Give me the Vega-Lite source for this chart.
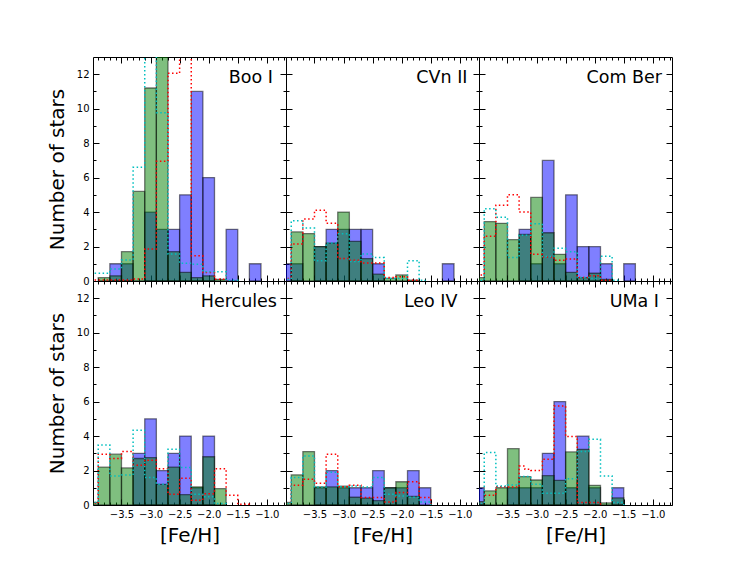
{
  "$schema": "https://vega.github.io/schema/vega-lite/v6.json",
  "description": "Metallicity distributions of six ultra-faint dwarfs: observed (blue), model (green), two model curves (dotted).",
  "background": "white",
  "padding": {"left": 47, "top": 56, "right": 5, "bottom": 5},
  "config": {
    "view": {"stroke": null},
    "axis": {
      "grid": false,
      "zindex": 1,
      "domain": true,
      "domainColor": "#000",
      "domainWidth": 1,
      "tickColor": "#000",
      "tickWidth": 1,
      "labelFont": "DejaVu Sans",
      "labelFontSize": 10,
      "labelColor": "#000",
      "titleFont": "DejaVu Sans",
      "titleFontSize": 20,
      "titleFontWeight": "normal",
      "titleColor": "#000"
    },
    "title": {
      "font": "DejaVu Sans",
      "fontSize": 17.5,
      "fontWeight": "normal",
      "color": "#000",
      "anchor": "end",
      "frame": "group",
      "baseline": "alphabetic",
      "offset": -29.5
    }
  },
  "datasets": {
    "bars": [
      {"g": "Boo I", "s": "b", "lo": -3.7, "hi": -3.5, "n": 1},
      {"g": "Boo I", "s": "b", "lo": -3.5, "hi": -3.3, "n": 1},
      {"g": "Boo I", "s": "b", "lo": -3.1, "hi": -2.9, "n": 4},
      {"g": "Boo I", "s": "b", "lo": -2.9, "hi": -2.7, "n": 3},
      {"g": "Boo I", "s": "b", "lo": -2.7, "hi": -2.5, "n": 3},
      {"g": "Boo I", "s": "b", "lo": -2.5, "hi": -2.3, "n": 5},
      {"g": "Boo I", "s": "b", "lo": -2.3, "hi": -2.1, "n": 11},
      {"g": "Boo I", "s": "b", "lo": -2.1, "hi": -1.9, "n": 6},
      {"g": "Boo I", "s": "b", "lo": -1.7, "hi": -1.5, "n": 3},
      {"g": "Boo I", "s": "b", "lo": -1.3, "hi": -1.1, "n": 1},
      {"g": "Boo I", "s": "g", "lo": -3.9, "hi": -3.7, "n": 0.2},
      {"g": "Boo I", "s": "g", "lo": -3.7, "hi": -3.5, "n": 0.3},
      {"g": "Boo I", "s": "g", "lo": -3.5, "hi": -3.3, "n": 1.7},
      {"g": "Boo I", "s": "g", "lo": -3.3, "hi": -3.1, "n": 5.2},
      {"g": "Boo I", "s": "g", "lo": -3.1, "hi": -2.9, "n": 11.2},
      {"g": "Boo I", "s": "g", "lo": -2.9, "hi": -2.7, "n": 13.6},
      {"g": "Boo I", "s": "g", "lo": -2.7, "hi": -2.5, "n": 1.7},
      {"g": "Boo I", "s": "g", "lo": -2.5, "hi": -2.3, "n": 0.5},
      {"g": "Boo I", "s": "g", "lo": -2.3, "hi": -2.1, "n": 0.2},
      {"g": "Boo I", "s": "g", "lo": -2.1, "hi": -1.9, "n": 0.3},
      {"g": "Boo I", "s": "g", "lo": -1.9, "hi": -1.7, "n": 0.1},

      {"g": "CVn II", "s": "b", "lo": -4.1, "hi": -3.9, "n": 1},
      {"g": "CVn II", "s": "b", "lo": -3.9, "hi": -3.7, "n": 1},
      {"g": "CVn II", "s": "b", "lo": -3.5, "hi": -3.3, "n": 2},
      {"g": "CVn II", "s": "b", "lo": -3.3, "hi": -3.1, "n": 3},
      {"g": "CVn II", "s": "b", "lo": -3.1, "hi": -2.9, "n": 3},
      {"g": "CVn II", "s": "b", "lo": -2.9, "hi": -2.7, "n": 3},
      {"g": "CVn II", "s": "b", "lo": -2.7, "hi": -2.5, "n": 3},
      {"g": "CVn II", "s": "b", "lo": -2.5, "hi": -2.3, "n": 1},
      {"g": "CVn II", "s": "b", "lo": -1.3, "hi": -1.1, "n": 1},
      {"g": "CVn II", "s": "g", "lo": -3.9, "hi": -3.7, "n": 2.85},
      {"g": "CVn II", "s": "g", "lo": -3.7, "hi": -3.5, "n": 2.75},
      {"g": "CVn II", "s": "g", "lo": -3.5, "hi": -3.3, "n": 2.0},
      {"g": "CVn II", "s": "g", "lo": -3.3, "hi": -3.1, "n": 2.2},
      {"g": "CVn II", "s": "g", "lo": -3.1, "hi": -2.9, "n": 4.0},
      {"g": "CVn II", "s": "g", "lo": -2.9, "hi": -2.7, "n": 2.3},
      {"g": "CVn II", "s": "g", "lo": -2.7, "hi": -2.5, "n": 1.3},
      {"g": "CVn II", "s": "g", "lo": -2.5, "hi": -2.3, "n": 0.4},
      {"g": "CVn II", "s": "g", "lo": -2.3, "hi": -2.1, "n": 0.15},
      {"g": "CVn II", "s": "g", "lo": -2.1, "hi": -1.9, "n": 0.35},
      {"g": "CVn II", "s": "g", "lo": -1.9, "hi": -1.7, "n": 0.05},

      {"g": "Com Ber", "s": "b", "lo": -3.3, "hi": -3.1, "n": 3},
      {"g": "Com Ber", "s": "b", "lo": -3.1, "hi": -2.9, "n": 1},
      {"g": "Com Ber", "s": "b", "lo": -2.9, "hi": -2.7, "n": 7},
      {"g": "Com Ber", "s": "b", "lo": -2.7, "hi": -2.5, "n": 1},
      {"g": "Com Ber", "s": "b", "lo": -2.5, "hi": -2.3, "n": 5},
      {"g": "Com Ber", "s": "b", "lo": -2.3, "hi": -2.1, "n": 2},
      {"g": "Com Ber", "s": "b", "lo": -2.1, "hi": -1.9, "n": 2},
      {"g": "Com Ber", "s": "b", "lo": -1.9, "hi": -1.7, "n": 1},
      {"g": "Com Ber", "s": "b", "lo": -1.5, "hi": -1.3, "n": 1},
      {"g": "Com Ber", "s": "g", "lo": -4.1, "hi": -3.9, "n": 0.2},
      {"g": "Com Ber", "s": "g", "lo": -3.9, "hi": -3.7, "n": 3.45},
      {"g": "Com Ber", "s": "g", "lo": -3.7, "hi": -3.5, "n": 3.35},
      {"g": "Com Ber", "s": "g", "lo": -3.5, "hi": -3.3, "n": 2.4},
      {"g": "Com Ber", "s": "g", "lo": -3.3, "hi": -3.1, "n": 2.7},
      {"g": "Com Ber", "s": "g", "lo": -3.1, "hi": -2.9, "n": 4.85},
      {"g": "Com Ber", "s": "g", "lo": -2.9, "hi": -2.7, "n": 2.8},
      {"g": "Com Ber", "s": "g", "lo": -2.7, "hi": -2.5, "n": 1.55},
      {"g": "Com Ber", "s": "g", "lo": -2.5, "hi": -2.3, "n": 0.5},
      {"g": "Com Ber", "s": "g", "lo": -2.3, "hi": -2.1, "n": 0.2},
      {"g": "Com Ber", "s": "g", "lo": -2.1, "hi": -1.9, "n": 0.45},
      {"g": "Com Ber", "s": "g", "lo": -1.9, "hi": -1.7, "n": 0.1},

      {"g": "Hercules", "s": "b", "lo": -3.3, "hi": -3.1, "n": 3},
      {"g": "Hercules", "s": "b", "lo": -3.1, "hi": -2.9, "n": 5},
      {"g": "Hercules", "s": "b", "lo": -2.9, "hi": -2.7, "n": 2},
      {"g": "Hercules", "s": "b", "lo": -2.7, "hi": -2.5, "n": 3},
      {"g": "Hercules", "s": "b", "lo": -2.5, "hi": -2.3, "n": 4},
      {"g": "Hercules", "s": "b", "lo": -2.3, "hi": -2.1, "n": 1},
      {"g": "Hercules", "s": "b", "lo": -2.1, "hi": -1.9, "n": 4},
      {"g": "Hercules", "s": "g", "lo": -4.1, "hi": -3.9, "n": 0.15},
      {"g": "Hercules", "s": "g", "lo": -3.9, "hi": -3.7, "n": 2.2},
      {"g": "Hercules", "s": "g", "lo": -3.7, "hi": -3.5, "n": 2.95},
      {"g": "Hercules", "s": "g", "lo": -3.5, "hi": -3.3, "n": 2.15},
      {"g": "Hercules", "s": "g", "lo": -3.3, "hi": -3.1, "n": 2.7},
      {"g": "Hercules", "s": "g", "lo": -3.1, "hi": -2.9, "n": 2.75},
      {"g": "Hercules", "s": "g", "lo": -2.9, "hi": -2.7, "n": 1.2},
      {"g": "Hercules", "s": "g", "lo": -2.7, "hi": -2.5, "n": 2.2},
      {"g": "Hercules", "s": "g", "lo": -2.5, "hi": -2.3, "n": 0.6},
      {"g": "Hercules", "s": "g", "lo": -2.3, "hi": -2.1, "n": 1.05},
      {"g": "Hercules", "s": "g", "lo": -2.1, "hi": -1.9, "n": 2.8},
      {"g": "Hercules", "s": "g", "lo": -1.9, "hi": -1.7, "n": 0.95},

      {"g": "Leo IV", "s": "b", "lo": -3.5, "hi": -3.3, "n": 1},
      {"g": "Leo IV", "s": "b", "lo": -3.3, "hi": -3.1, "n": 2},
      {"g": "Leo IV", "s": "b", "lo": -3.1, "hi": -2.9, "n": 1},
      {"g": "Leo IV", "s": "b", "lo": -2.9, "hi": -2.7, "n": 1},
      {"g": "Leo IV", "s": "b", "lo": -2.7, "hi": -2.5, "n": 1},
      {"g": "Leo IV", "s": "b", "lo": -2.5, "hi": -2.3, "n": 2},
      {"g": "Leo IV", "s": "b", "lo": -2.3, "hi": -2.1, "n": 1},
      {"g": "Leo IV", "s": "b", "lo": -2.1, "hi": -1.9, "n": 1},
      {"g": "Leo IV", "s": "b", "lo": -1.9, "hi": -1.7, "n": 2},
      {"g": "Leo IV", "s": "b", "lo": -1.7, "hi": -1.5, "n": 1},
      {"g": "Leo IV", "s": "g", "lo": -4.1, "hi": -3.9, "n": 0.15},
      {"g": "Leo IV", "s": "g", "lo": -3.9, "hi": -3.7, "n": 1.75},
      {"g": "Leo IV", "s": "g", "lo": -3.7, "hi": -3.5, "n": 3.1},
      {"g": "Leo IV", "s": "g", "lo": -3.5, "hi": -3.3, "n": 1.05},
      {"g": "Leo IV", "s": "g", "lo": -3.3, "hi": -3.1, "n": 1.05},
      {"g": "Leo IV", "s": "g", "lo": -3.1, "hi": -2.9, "n": 1.1},
      {"g": "Leo IV", "s": "g", "lo": -2.9, "hi": -2.7, "n": 0.45},
      {"g": "Leo IV", "s": "g", "lo": -2.7, "hi": -2.5, "n": 0.4},
      {"g": "Leo IV", "s": "g", "lo": -2.5, "hi": -2.3, "n": 0.25},
      {"g": "Leo IV", "s": "g", "lo": -2.3, "hi": -2.1, "n": 1.0},
      {"g": "Leo IV", "s": "g", "lo": -2.1, "hi": -1.9, "n": 1.35},
      {"g": "Leo IV", "s": "g", "lo": -1.9, "hi": -1.7, "n": 0.5},

      {"g": "UMa I", "s": "b", "lo": -4.1, "hi": -3.9, "n": 1},
      {"g": "UMa I", "s": "b", "lo": -3.5, "hi": -3.3, "n": 1},
      {"g": "UMa I", "s": "b", "lo": -3.3, "hi": -3.1, "n": 1},
      {"g": "UMa I", "s": "b", "lo": -3.1, "hi": -2.9, "n": 1},
      {"g": "UMa I", "s": "b", "lo": -2.9, "hi": -2.7, "n": 3},
      {"g": "UMa I", "s": "b", "lo": -2.7, "hi": -2.5, "n": 6},
      {"g": "UMa I", "s": "b", "lo": -2.5, "hi": -2.3, "n": 1},
      {"g": "UMa I", "s": "b", "lo": -2.3, "hi": -2.1, "n": 4},
      {"g": "UMa I", "s": "b", "lo": -2.1, "hi": -1.9, "n": 1},
      {"g": "UMa I", "s": "b", "lo": -1.7, "hi": -1.5, "n": 1},
      {"g": "UMa I", "s": "g", "lo": -4.1, "hi": -3.9, "n": 0.2},
      {"g": "UMa I", "s": "g", "lo": -3.9, "hi": -3.7, "n": 0.82},
      {"g": "UMa I", "s": "g", "lo": -3.7, "hi": -3.5, "n": 1.0},
      {"g": "UMa I", "s": "g", "lo": -3.5, "hi": -3.3, "n": 3.27},
      {"g": "UMa I", "s": "g", "lo": -3.3, "hi": -3.1, "n": 1.65},
      {"g": "UMa I", "s": "g", "lo": -3.1, "hi": -2.9, "n": 1.45},
      {"g": "UMa I", "s": "g", "lo": -2.9, "hi": -2.7, "n": 1.7},
      {"g": "UMa I", "s": "g", "lo": -2.7, "hi": -2.5, "n": 1.43},
      {"g": "UMa I", "s": "g", "lo": -2.5, "hi": -2.3, "n": 3.08},
      {"g": "UMa I", "s": "g", "lo": -2.3, "hi": -2.1, "n": 3.23},
      {"g": "UMa I", "s": "g", "lo": -2.1, "hi": -1.9, "n": 1.14},
      {"g": "UMa I", "s": "g", "lo": -1.9, "hi": -1.7, "n": 0.12},
      {"g": "UMa I", "s": "g", "lo": -1.7, "hi": -1.5, "n": 0.41}
    ],
    "lines": [
      {"g": "Boo I", "m": "r", "x": -4.1, "n": 0.06},
      {"g": "Boo I", "m": "r", "x": -3.3, "n": 0.12},
      {"g": "Boo I", "m": "r", "x": -3.1, "n": 1.86},
      {"g": "Boo I", "m": "r", "x": -2.9, "n": 6.95},
      {"g": "Boo I", "m": "r", "x": -2.7, "n": 12.05},
      {"g": "Boo I", "m": "r", "x": -2.5, "n": 14},
      {"g": "Boo I", "m": "r", "x": -2.3, "n": 1.46},
      {"g": "Boo I", "m": "r", "x": -2.1, "n": 0.49},
      {"g": "Boo I", "m": "r", "x": -1.9, "n": 0.1},
      {"g": "Boo I", "m": "r", "x": -1.7, "n": 0},
      {"g": "Boo I", "m": "c", "x": -4.1, "n": 0.45},
      {"g": "Boo I", "m": "c", "x": -3.7, "n": 0.7},
      {"g": "Boo I", "m": "c", "x": -3.5, "n": 1.22},
      {"g": "Boo I", "m": "c", "x": -3.3, "n": 6.6},
      {"g": "Boo I", "m": "c", "x": -3.1, "n": 14},
      {"g": "Boo I", "m": "c", "x": -2.9, "n": 9.77},
      {"g": "Boo I", "m": "c", "x": -2.7, "n": 1.57},
      {"g": "Boo I", "m": "c", "x": -2.5, "n": 1.03},
      {"g": "Boo I", "m": "c", "x": -2.3, "n": 0.97},
      {"g": "Boo I", "m": "c", "x": -2.1, "n": 0.54},
      {"g": "Boo I", "m": "c", "x": -1.9, "n": 0.54},
      {"g": "Boo I", "m": "c", "x": -1.7, "n": 0.05},
      {"g": "Boo I", "m": "c", "x": -1.5, "n": 0},

      {"g": "CVn II", "m": "r", "x": -4.1, "n": 0.15},
      {"g": "CVn II", "m": "r", "x": -3.9, "n": 2.15},
      {"g": "CVn II", "m": "r", "x": -3.7, "n": 3.6},
      {"g": "CVn II", "m": "r", "x": -3.5, "n": 4.1},
      {"g": "CVn II", "m": "r", "x": -3.3, "n": 3.35},
      {"g": "CVn II", "m": "r", "x": -3.1, "n": 1.3},
      {"g": "CVn II", "m": "r", "x": -2.9, "n": 1.2},
      {"g": "CVn II", "m": "r", "x": -2.7, "n": 1.05},
      {"g": "CVn II", "m": "r", "x": -2.3, "n": 0.2},
      {"g": "CVn II", "m": "r", "x": -2.1, "n": 0.25},
      {"g": "CVn II", "m": "r", "x": -1.9, "n": 0.05},
      {"g": "CVn II", "m": "r", "x": -1.7, "n": 0},
      {"g": "CVn II", "m": "c", "x": -4.1, "n": 0.1},
      {"g": "CVn II", "m": "c", "x": -3.9, "n": 3.5},
      {"g": "CVn II", "m": "c", "x": -3.7, "n": 3.07},
      {"g": "CVn II", "m": "c", "x": -3.5, "n": 1.17},
      {"g": "CVn II", "m": "c", "x": -3.3, "n": 2.2},
      {"g": "CVn II", "m": "c", "x": -3.1, "n": 2.74},
      {"g": "CVn II", "m": "c", "x": -2.9, "n": 1.13},
      {"g": "CVn II", "m": "c", "x": -2.7, "n": 1.57},
      {"g": "CVn II", "m": "c", "x": -2.5, "n": 1.36},
      {"g": "CVn II", "m": "c", "x": -2.3, "n": 0.15},
      {"g": "CVn II", "m": "c", "x": -2.1, "n": 0.15},
      {"g": "CVn II", "m": "c", "x": -1.9, "n": 1.18},
      {"g": "CVn II", "m": "c", "x": -1.7, "n": 0.05},
      {"g": "CVn II", "m": "c", "x": -1.6, "n": 0},

      {"g": "Com Ber", "m": "r", "x": -4.1, "n": 0.35},
      {"g": "Com Ber", "m": "r", "x": -3.9, "n": 2.6},
      {"g": "Com Ber", "m": "r", "x": -3.7, "n": 4.4},
      {"g": "Com Ber", "m": "r", "x": -3.5, "n": 5.0},
      {"g": "Com Ber", "m": "r", "x": -3.3, "n": 4.0},
      {"g": "Com Ber", "m": "r", "x": -3.1, "n": 1.55},
      {"g": "Com Ber", "m": "r", "x": -2.9, "n": 1.4},
      {"g": "Com Ber", "m": "r", "x": -2.7, "n": 1.2},
      {"g": "Com Ber", "m": "r", "x": -2.5, "n": 1.28},
      {"g": "Com Ber", "m": "r", "x": -2.3, "n": 0.2},
      {"g": "Com Ber", "m": "r", "x": -2.1, "n": 0.3},
      {"g": "Com Ber", "m": "r", "x": -1.9, "n": 0.05},
      {"g": "Com Ber", "m": "r", "x": -1.7, "n": 0},
      {"g": "Com Ber", "m": "c", "x": -4.1, "n": 0.05},
      {"g": "Com Ber", "m": "c", "x": -3.9, "n": 4.2},
      {"g": "Com Ber", "m": "c", "x": -3.7, "n": 3.7},
      {"g": "Com Ber", "m": "c", "x": -3.5, "n": 1.36},
      {"g": "Com Ber", "m": "c", "x": -3.3, "n": 2.66},
      {"g": "Com Ber", "m": "c", "x": -3.1, "n": 3.32},
      {"g": "Com Ber", "m": "c", "x": -2.9, "n": 1.42},
      {"g": "Com Ber", "m": "c", "x": -2.7, "n": 1.9},
      {"g": "Com Ber", "m": "c", "x": -2.5, "n": 1.7},
      {"g": "Com Ber", "m": "c", "x": -2.3, "n": 0.2},
      {"g": "Com Ber", "m": "c", "x": -2.1, "n": 0.15},
      {"g": "Com Ber", "m": "c", "x": -1.9, "n": 1.44},
      {"g": "Com Ber", "m": "c", "x": -1.7, "n": 0.05},
      {"g": "Com Ber", "m": "c", "x": -1.6, "n": 0},

      {"g": "Hercules", "m": "r", "x": -4.1, "n": 0.1},
      {"g": "Hercules", "m": "r", "x": -3.9, "n": 2.95},
      {"g": "Hercules", "m": "r", "x": -3.7, "n": 2.7},
      {"g": "Hercules", "m": "r", "x": -3.5, "n": 3.1},
      {"g": "Hercules", "m": "r", "x": -3.3, "n": 2.3},
      {"g": "Hercules", "m": "r", "x": -3.1, "n": 2.6},
      {"g": "Hercules", "m": "r", "x": -2.9, "n": 2.1},
      {"g": "Hercules", "m": "r", "x": -2.7, "n": 0.62},
      {"g": "Hercules", "m": "r", "x": -2.5, "n": 1.55},
      {"g": "Hercules", "m": "r", "x": -2.3, "n": 0.27},
      {"g": "Hercules", "m": "r", "x": -2.1, "n": 0.66},
      {"g": "Hercules", "m": "r", "x": -1.9, "n": 2.1},
      {"g": "Hercules", "m": "r", "x": -1.7, "n": 0.56},
      {"g": "Hercules", "m": "r", "x": -1.5, "n": 0.04},
      {"g": "Hercules", "m": "r", "x": -1.3, "n": 0},
      {"g": "Hercules", "m": "c", "x": -4.1, "n": 0.15},
      {"g": "Hercules", "m": "c", "x": -3.9, "n": 3.48},
      {"g": "Hercules", "m": "c", "x": -3.7, "n": 1.68},
      {"g": "Hercules", "m": "c", "x": -3.5, "n": 1.74},
      {"g": "Hercules", "m": "c", "x": -3.3, "n": 4.34},
      {"g": "Hercules", "m": "c", "x": -3.1, "n": 1.59},
      {"g": "Hercules", "m": "c", "x": -2.9, "n": 1.2},
      {"g": "Hercules", "m": "c", "x": -2.7, "n": 3.23},
      {"g": "Hercules", "m": "c", "x": -2.5, "n": 2.17},
      {"g": "Hercules", "m": "c", "x": -2.3, "n": 0.62},
      {"g": "Hercules", "m": "c", "x": -2.1, "n": 0.48},
      {"g": "Hercules", "m": "c", "x": -1.9, "n": 0.08},
      {"g": "Hercules", "m": "c", "x": -1.7, "n": 0},

      {"g": "Leo IV", "m": "r", "x": -4.1, "n": 0.1},
      {"g": "Leo IV", "m": "r", "x": -3.9, "n": 1.14},
      {"g": "Leo IV", "m": "r", "x": -3.7, "n": 1.49},
      {"g": "Leo IV", "m": "r", "x": -3.5, "n": 1.26},
      {"g": "Leo IV", "m": "r", "x": -3.3, "n": 2.94},
      {"g": "Leo IV", "m": "r", "x": -3.1, "n": 1.06},
      {"g": "Leo IV", "m": "r", "x": -2.9, "n": 1.14},
      {"g": "Leo IV", "m": "r", "x": -2.7, "n": 0.43},
      {"g": "Leo IV", "m": "r", "x": -2.3, "n": 0.17},
      {"g": "Leo IV", "m": "r", "x": -2.1, "n": 0.72},
      {"g": "Leo IV", "m": "r", "x": -1.9, "n": 1.35},
      {"g": "Leo IV", "m": "r", "x": -1.7, "n": 0.43},
      {"g": "Leo IV", "m": "r", "x": -1.5, "n": 0},
      {"g": "Leo IV", "m": "c", "x": -4.1, "n": 0.1},
      {"g": "Leo IV", "m": "c", "x": -3.9, "n": 1.59},
      {"g": "Leo IV", "m": "c", "x": -3.7, "n": 2.85},
      {"g": "Leo IV", "m": "c", "x": -3.5, "n": 1.05},
      {"g": "Leo IV", "m": "c", "x": -3.3, "n": 1.9},
      {"g": "Leo IV", "m": "c", "x": -3.1, "n": 1.06},
      {"g": "Leo IV", "m": "c", "x": -2.9, "n": 1.1},
      {"g": "Leo IV", "m": "c", "x": -2.7, "n": 1.05},
      {"g": "Leo IV", "m": "c", "x": -2.5, "n": 1.6},
      {"g": "Leo IV", "m": "c", "x": -2.3, "n": 0.62},
      {"g": "Leo IV", "m": "c", "x": -2.1, "n": 0.52},
      {"g": "Leo IV", "m": "c", "x": -1.9, "n": 0.45},
      {"g": "Leo IV", "m": "c", "x": -1.7, "n": 0.17},
      {"g": "Leo IV", "m": "c", "x": -1.5, "n": 0},

      {"g": "UMa I", "m": "r", "x": -4.1, "n": 0.1},
      {"g": "UMa I", "m": "r", "x": -3.9, "n": 0.56},
      {"g": "UMa I", "m": "r", "x": -3.7, "n": 1.06},
      {"g": "UMa I", "m": "r", "x": -3.5, "n": 1.05},
      {"g": "UMa I", "m": "r", "x": -3.3, "n": 2.26},
      {"g": "UMa I", "m": "r", "x": -3.2, "n": 2.07},
      {"g": "UMa I", "m": "r", "x": -3.1, "n": 2.0},
      {"g": "UMa I", "m": "r", "x": -2.9, "n": 2.65},
      {"g": "UMa I", "m": "r", "x": -2.7, "n": 5.75},
      {"g": "UMa I", "m": "r", "x": -2.5, "n": 3.97},
      {"g": "UMa I", "m": "r", "x": -2.3, "n": 0.14},
      {"g": "UMa I", "m": "r", "x": -1.9, "n": 0},
      {"g": "UMa I", "m": "c", "x": -4.1, "n": 0.1},
      {"g": "UMa I", "m": "c", "x": -3.9, "n": 3.04},
      {"g": "UMa I", "m": "c", "x": -3.7, "n": 1.1},
      {"g": "UMa I", "m": "c", "x": -3.5, "n": 1.16},
      {"g": "UMa I", "m": "c", "x": -3.3, "n": 1.65},
      {"g": "UMa I", "m": "c", "x": -3.1, "n": 1.2},
      {"g": "UMa I", "m": "c", "x": -2.9, "n": 0.68},
      {"g": "UMa I", "m": "c", "x": -2.5, "n": 1.53},
      {"g": "UMa I", "m": "c", "x": -2.3, "n": 3.1},
      {"g": "UMa I", "m": "c", "x": -2.1, "n": 3.81},
      {"g": "UMa I", "m": "c", "x": -1.9, "n": 1.68},
      {"g": "UMa I", "m": "c", "x": -1.7, "n": 0.14},
      {"g": "UMa I", "m": "c", "x": -1.5, "n": 0}
    ]
  },
  "columns": 3,
  "spacing": 0,
  "bounds": "flush",
  "concat": [
    {
      "width": 193, "height": 224, "title": {"text": "Boo I", "dx": -13},
      "resolve": {"axis": {"x": "independent", "y": "independent"}},
      "layer": [
        {"data": {"name": "bars"}, "transform": [{"filter": "datum.g == 'Boo I' && datum.s == 'b'"}],
         "mark": {"type": "bar", "fill": "#0000ff", "fillOpacity": 0.5, "stroke": "#000", "strokeOpacity": 0.5, "strokeWidth": 1.3, "clip": true},
         "encoding": {
           "x": {"field": "lo", "type": "quantitative", "scale": {"domain": [-3.99, -0.67], "nice": false, "zero": false}, "axis": {"orient": "bottom", "values": [-3.5, -3, -2.5, -2, -1.5, -1], "tickSize": -6, "labels": false, "title": null}},
           "x2": {"field": "hi"},
           "y": {"field": "n", "type": "quantitative", "scale": {"domain": [0, 13], "nice": false}, "axis": {"orient": "left", "values": [0, 2, 4, 6, 8, 10, 12], "tickSize": -6, "labelPadding": 10, "titlePadding": 9, "title": "Number of stars"}},
           "y2": {"datum": 0}
         }},
        {"data": {"name": "bars"}, "transform": [{"filter": "datum.g == 'Boo I' && datum.s == 'g'"}],
         "mark": {"type": "bar", "fill": "#008000", "fillOpacity": 0.5, "stroke": "#000", "strokeOpacity": 0.5, "strokeWidth": 1.3, "clip": true},
         "encoding": {
           "x": {"field": "lo", "type": "quantitative", "axis": {"orient": "top", "values": [-3.5, -3, -2.5, -2, -1.5, -1], "tickSize": -6, "labels": false, "title": null}},
           "x2": {"field": "hi"},
           "y": {"field": "n", "type": "quantitative", "axis": {"orient": "right", "values": [0, 2, 4, 6, 8, 10, 12], "tickSize": -6, "labels": false, "title": null}},
           "y2": {"datum": 0}
         }},
        {"data": {"name": "lines"}, "transform": [{"filter": "datum.g == 'Boo I' && datum.m == 'r'"}],
         "mark": {"type": "line", "interpolate": "step-after", "stroke": "#ff0000", "strokeWidth": 1.5, "strokeDash": [1.5, 2.5], "clip": true},
         "encoding": {
           "x": {"field": "x", "type": "quantitative", "axis": {"orient": "bottom", "values": [-3.9, -3.8, -3.7, -3.6, -3.4, -3.3, -3.2, -3.1, -2.9, -2.8, -2.7, -2.6, -2.4, -2.3, -2.2, -2.1, -1.9, -1.8, -1.7, -1.6, -1.4, -1.3, -1.2, -1.1, -0.9, -0.8, -0.7], "tickSize": -3, "domain": false, "labels": false, "title": null}},
           "y": {"field": "n", "type": "quantitative", "axis": {"orient": "left", "values": [1, 3, 5, 7, 9, 11], "tickSize": -3, "domain": false, "labels": false, "title": null}}
         }},
        {"data": {"name": "lines"}, "transform": [{"filter": "datum.g == 'Boo I' && datum.m == 'c'"}],
         "mark": {"type": "line", "interpolate": "step-after", "stroke": "#00bfbf", "strokeWidth": 1.5, "strokeDash": [1.5, 2.5], "clip": true},
         "encoding": {
           "x": {"field": "x", "type": "quantitative", "axis": {"orient": "top", "values": [-3.9, -3.8, -3.7, -3.6, -3.4, -3.3, -3.2, -3.1, -2.9, -2.8, -2.7, -2.6, -2.4, -2.3, -2.2, -2.1, -1.9, -1.8, -1.7, -1.6, -1.4, -1.3, -1.2, -1.1, -0.9, -0.8, -0.7], "tickSize": -3, "domain": false, "labels": false, "title": null}},
           "y": {"field": "n", "type": "quantitative", "axis": {"orient": "right", "values": [1, 3, 5, 7, 9, 11], "tickSize": -3, "domain": false, "labels": false, "title": null}}
         }}
      ]
    },
    {
      "width": 193, "height": 224, "title": {"text": "CVn II", "dx": -11.5},
      "resolve": {"axis": {"x": "independent", "y": "independent"}},
      "layer": [
        {"data": {"name": "bars"}, "transform": [{"filter": "datum.g == 'CVn II' && datum.s == 'b'"}],
         "mark": {"type": "bar", "fill": "#0000ff", "fillOpacity": 0.5, "stroke": "#000", "strokeOpacity": 0.5, "strokeWidth": 1.3, "clip": true},
         "encoding": {
           "x": {"field": "lo", "type": "quantitative", "scale": {"domain": [-3.99, -0.67], "nice": false, "zero": false}, "axis": {"orient": "bottom", "values": [-3.5, -3, -2.5, -2, -1.5, -1], "tickSize": -6, "labels": false, "title": null}},
           "x2": {"field": "hi"},
           "y": {"field": "n", "type": "quantitative", "scale": {"domain": [0, 13], "nice": false}, "axis": {"orient": "left", "values": [0, 2, 4, 6, 8, 10, 12], "tickSize": -6, "labels": false, "title": null}},
           "y2": {"datum": 0}
         }},
        {"data": {"name": "bars"}, "transform": [{"filter": "datum.g == 'CVn II' && datum.s == 'g'"}],
         "mark": {"type": "bar", "fill": "#008000", "fillOpacity": 0.5, "stroke": "#000", "strokeOpacity": 0.5, "strokeWidth": 1.3, "clip": true},
         "encoding": {
           "x": {"field": "lo", "type": "quantitative", "axis": {"orient": "top", "values": [-3.5, -3, -2.5, -2, -1.5, -1], "tickSize": -6, "labels": false, "title": null}},
           "x2": {"field": "hi"},
           "y": {"field": "n", "type": "quantitative", "axis": {"orient": "right", "values": [0, 2, 4, 6, 8, 10, 12], "tickSize": -6, "labels": false, "title": null}},
           "y2": {"datum": 0}
         }},
        {"data": {"name": "lines"}, "transform": [{"filter": "datum.g == 'CVn II' && datum.m == 'r'"}],
         "mark": {"type": "line", "interpolate": "step-after", "stroke": "#ff0000", "strokeWidth": 1.5, "strokeDash": [1.5, 2.5], "clip": true},
         "encoding": {
           "x": {"field": "x", "type": "quantitative", "axis": {"orient": "bottom", "values": [-3.9, -3.8, -3.7, -3.6, -3.4, -3.3, -3.2, -3.1, -2.9, -2.8, -2.7, -2.6, -2.4, -2.3, -2.2, -2.1, -1.9, -1.8, -1.7, -1.6, -1.4, -1.3, -1.2, -1.1, -0.9, -0.8, -0.7], "tickSize": -3, "domain": false, "labels": false, "title": null}},
           "y": {"field": "n", "type": "quantitative", "axis": {"orient": "left", "values": [1, 3, 5, 7, 9, 11], "tickSize": -3, "domain": false, "labels": false, "title": null}}
         }},
        {"data": {"name": "lines"}, "transform": [{"filter": "datum.g == 'CVn II' && datum.m == 'c'"}],
         "mark": {"type": "line", "interpolate": "step-after", "stroke": "#00bfbf", "strokeWidth": 1.5, "strokeDash": [1.5, 2.5], "clip": true},
         "encoding": {
           "x": {"field": "x", "type": "quantitative", "axis": {"orient": "top", "values": [-3.9, -3.8, -3.7, -3.6, -3.4, -3.3, -3.2, -3.1, -2.9, -2.8, -2.7, -2.6, -2.4, -2.3, -2.2, -2.1, -1.9, -1.8, -1.7, -1.6, -1.4, -1.3, -1.2, -1.1, -0.9, -0.8, -0.7], "tickSize": -3, "domain": false, "labels": false, "title": null}},
           "y": {"field": "n", "type": "quantitative", "axis": {"orient": "right", "values": [1, 3, 5, 7, 9, 11], "tickSize": -3, "domain": false, "labels": false, "title": null}}
         }}
      ]
    },
    {
      "width": 193, "height": 224, "title": {"text": "Com Ber", "dx": -10},
      "resolve": {"axis": {"x": "independent", "y": "independent"}},
      "layer": [
        {"data": {"name": "bars"}, "transform": [{"filter": "datum.g == 'Com Ber' && datum.s == 'b'"}],
         "mark": {"type": "bar", "fill": "#0000ff", "fillOpacity": 0.5, "stroke": "#000", "strokeOpacity": 0.5, "strokeWidth": 1.3, "clip": true},
         "encoding": {
           "x": {"field": "lo", "type": "quantitative", "scale": {"domain": [-3.99, -0.67], "nice": false, "zero": false}, "axis": {"orient": "bottom", "values": [-3.5, -3, -2.5, -2, -1.5, -1], "tickSize": -6, "labels": false, "title": null}},
           "x2": {"field": "hi"},
           "y": {"field": "n", "type": "quantitative", "scale": {"domain": [0, 13], "nice": false}, "axis": {"orient": "left", "values": [0, 2, 4, 6, 8, 10, 12], "tickSize": -6, "labels": false, "title": null}},
           "y2": {"datum": 0}
         }},
        {"data": {"name": "bars"}, "transform": [{"filter": "datum.g == 'Com Ber' && datum.s == 'g'"}],
         "mark": {"type": "bar", "fill": "#008000", "fillOpacity": 0.5, "stroke": "#000", "strokeOpacity": 0.5, "strokeWidth": 1.3, "clip": true},
         "encoding": {
           "x": {"field": "lo", "type": "quantitative", "axis": {"orient": "top", "values": [-3.5, -3, -2.5, -2, -1.5, -1], "tickSize": -6, "labels": false, "title": null}},
           "x2": {"field": "hi"},
           "y": {"field": "n", "type": "quantitative", "axis": {"orient": "right", "values": [0, 2, 4, 6, 8, 10, 12], "tickSize": -6, "labels": false, "title": null}},
           "y2": {"datum": 0}
         }},
        {"data": {"name": "lines"}, "transform": [{"filter": "datum.g == 'Com Ber' && datum.m == 'r'"}],
         "mark": {"type": "line", "interpolate": "step-after", "stroke": "#ff0000", "strokeWidth": 1.5, "strokeDash": [1.5, 2.5], "clip": true},
         "encoding": {
           "x": {"field": "x", "type": "quantitative", "axis": {"orient": "bottom", "values": [-3.9, -3.8, -3.7, -3.6, -3.4, -3.3, -3.2, -3.1, -2.9, -2.8, -2.7, -2.6, -2.4, -2.3, -2.2, -2.1, -1.9, -1.8, -1.7, -1.6, -1.4, -1.3, -1.2, -1.1, -0.9, -0.8, -0.7], "tickSize": -3, "domain": false, "labels": false, "title": null}},
           "y": {"field": "n", "type": "quantitative", "axis": {"orient": "left", "values": [1, 3, 5, 7, 9, 11], "tickSize": -3, "domain": false, "labels": false, "title": null}}
         }},
        {"data": {"name": "lines"}, "transform": [{"filter": "datum.g == 'Com Ber' && datum.m == 'c'"}],
         "mark": {"type": "line", "interpolate": "step-after", "stroke": "#00bfbf", "strokeWidth": 1.5, "strokeDash": [1.5, 2.5], "clip": true},
         "encoding": {
           "x": {"field": "x", "type": "quantitative", "axis": {"orient": "top", "values": [-3.9, -3.8, -3.7, -3.6, -3.4, -3.3, -3.2, -3.1, -2.9, -2.8, -2.7, -2.6, -2.4, -2.3, -2.2, -2.1, -1.9, -1.8, -1.7, -1.6, -1.4, -1.3, -1.2, -1.1, -0.9, -0.8, -0.7], "tickSize": -3, "domain": false, "labels": false, "title": null}},
           "y": {"field": "n", "type": "quantitative", "axis": {"orient": "right", "values": [1, 3, 5, 7, 9, 11], "tickSize": -3, "domain": false, "labels": false, "title": null}}
         }}
      ]
    },
    {
      "width": 193, "height": 224, "title": {"text": "Hercules", "dx": -9},
      "resolve": {"axis": {"x": "independent", "y": "independent"}},
      "layer": [
        {"data": {"name": "bars"}, "transform": [{"filter": "datum.g == 'Hercules' && datum.s == 'b'"}],
         "mark": {"type": "bar", "fill": "#0000ff", "fillOpacity": 0.5, "stroke": "#000", "strokeOpacity": 0.5, "strokeWidth": 1.3, "clip": true},
         "encoding": {
           "x": {"field": "lo", "type": "quantitative", "scale": {"domain": [-3.99, -0.67], "nice": false, "zero": false}, "axis": {"orient": "bottom", "values": [-3.5, -3, -2.5, -2, -1.5, -1], "format": ".1f", "tickSize": -6, "labelPadding": 10, "titlePadding": 6, "title": "[Fe/H]"}},
           "x2": {"field": "hi"},
           "y": {"field": "n", "type": "quantitative", "scale": {"domain": [0, 13], "nice": false}, "axis": {"orient": "left", "values": [0, 2, 4, 6, 8, 10, 12], "tickSize": -6, "labelPadding": 10, "titlePadding": 9, "title": "Number of stars"}},
           "y2": {"datum": 0}
         }},
        {"data": {"name": "bars"}, "transform": [{"filter": "datum.g == 'Hercules' && datum.s == 'g'"}],
         "mark": {"type": "bar", "fill": "#008000", "fillOpacity": 0.5, "stroke": "#000", "strokeOpacity": 0.5, "strokeWidth": 1.3, "clip": true},
         "encoding": {
           "x": {"field": "lo", "type": "quantitative", "axis": {"orient": "top", "values": [-3.5, -3, -2.5, -2, -1.5, -1], "tickSize": -6, "labels": false, "title": null}},
           "x2": {"field": "hi"},
           "y": {"field": "n", "type": "quantitative", "axis": {"orient": "right", "values": [0, 2, 4, 6, 8, 10, 12], "tickSize": -6, "labels": false, "title": null}},
           "y2": {"datum": 0}
         }},
        {"data": {"name": "lines"}, "transform": [{"filter": "datum.g == 'Hercules' && datum.m == 'r'"}],
         "mark": {"type": "line", "interpolate": "step-after", "stroke": "#ff0000", "strokeWidth": 1.5, "strokeDash": [1.5, 2.5], "clip": true},
         "encoding": {
           "x": {"field": "x", "type": "quantitative", "axis": {"orient": "bottom", "values": [-3.9, -3.8, -3.7, -3.6, -3.4, -3.3, -3.2, -3.1, -2.9, -2.8, -2.7, -2.6, -2.4, -2.3, -2.2, -2.1, -1.9, -1.8, -1.7, -1.6, -1.4, -1.3, -1.2, -1.1, -0.9, -0.8, -0.7], "tickSize": -3, "domain": false, "labels": false, "title": null}},
           "y": {"field": "n", "type": "quantitative", "axis": {"orient": "left", "values": [1, 3, 5, 7, 9, 11], "tickSize": -3, "domain": false, "labels": false, "title": null}}
         }},
        {"data": {"name": "lines"}, "transform": [{"filter": "datum.g == 'Hercules' && datum.m == 'c'"}],
         "mark": {"type": "line", "interpolate": "step-after", "stroke": "#00bfbf", "strokeWidth": 1.5, "strokeDash": [1.5, 2.5], "clip": true},
         "encoding": {
           "x": {"field": "x", "type": "quantitative", "axis": {"orient": "top", "values": [-3.9, -3.8, -3.7, -3.6, -3.4, -3.3, -3.2, -3.1, -2.9, -2.8, -2.7, -2.6, -2.4, -2.3, -2.2, -2.1, -1.9, -1.8, -1.7, -1.6, -1.4, -1.3, -1.2, -1.1, -0.9, -0.8, -0.7], "tickSize": -3, "domain": false, "labels": false, "title": null}},
           "y": {"field": "n", "type": "quantitative", "axis": {"orient": "right", "values": [1, 3, 5, 7, 9, 11], "tickSize": -3, "domain": false, "labels": false, "title": null}}
         }}
      ]
    },
    {
      "width": 193, "height": 224, "title": {"text": "Leo IV", "dx": -21.5},
      "resolve": {"axis": {"x": "independent", "y": "independent"}},
      "layer": [
        {"data": {"name": "bars"}, "transform": [{"filter": "datum.g == 'Leo IV' && datum.s == 'b'"}],
         "mark": {"type": "bar", "fill": "#0000ff", "fillOpacity": 0.5, "stroke": "#000", "strokeOpacity": 0.5, "strokeWidth": 1.3, "clip": true},
         "encoding": {
           "x": {"field": "lo", "type": "quantitative", "scale": {"domain": [-3.99, -0.67], "nice": false, "zero": false}, "axis": {"orient": "bottom", "values": [-3.5, -3, -2.5, -2, -1.5, -1], "format": ".1f", "tickSize": -6, "labelPadding": 10, "titlePadding": 6, "title": "[Fe/H]"}},
           "x2": {"field": "hi"},
           "y": {"field": "n", "type": "quantitative", "scale": {"domain": [0, 13], "nice": false}, "axis": {"orient": "left", "values": [0, 2, 4, 6, 8, 10, 12], "tickSize": -6, "labels": false, "title": null}},
           "y2": {"datum": 0}
         }},
        {"data": {"name": "bars"}, "transform": [{"filter": "datum.g == 'Leo IV' && datum.s == 'g'"}],
         "mark": {"type": "bar", "fill": "#008000", "fillOpacity": 0.5, "stroke": "#000", "strokeOpacity": 0.5, "strokeWidth": 1.3, "clip": true},
         "encoding": {
           "x": {"field": "lo", "type": "quantitative", "axis": {"orient": "top", "values": [-3.5, -3, -2.5, -2, -1.5, -1], "tickSize": -6, "labels": false, "title": null}},
           "x2": {"field": "hi"},
           "y": {"field": "n", "type": "quantitative", "axis": {"orient": "right", "values": [0, 2, 4, 6, 8, 10, 12], "tickSize": -6, "labels": false, "title": null}},
           "y2": {"datum": 0}
         }},
        {"data": {"name": "lines"}, "transform": [{"filter": "datum.g == 'Leo IV' && datum.m == 'r'"}],
         "mark": {"type": "line", "interpolate": "step-after", "stroke": "#ff0000", "strokeWidth": 1.5, "strokeDash": [1.5, 2.5], "clip": true},
         "encoding": {
           "x": {"field": "x", "type": "quantitative", "axis": {"orient": "bottom", "values": [-3.9, -3.8, -3.7, -3.6, -3.4, -3.3, -3.2, -3.1, -2.9, -2.8, -2.7, -2.6, -2.4, -2.3, -2.2, -2.1, -1.9, -1.8, -1.7, -1.6, -1.4, -1.3, -1.2, -1.1, -0.9, -0.8, -0.7], "tickSize": -3, "domain": false, "labels": false, "title": null}},
           "y": {"field": "n", "type": "quantitative", "axis": {"orient": "left", "values": [1, 3, 5, 7, 9, 11], "tickSize": -3, "domain": false, "labels": false, "title": null}}
         }},
        {"data": {"name": "lines"}, "transform": [{"filter": "datum.g == 'Leo IV' && datum.m == 'c'"}],
         "mark": {"type": "line", "interpolate": "step-after", "stroke": "#00bfbf", "strokeWidth": 1.5, "strokeDash": [1.5, 2.5], "clip": true},
         "encoding": {
           "x": {"field": "x", "type": "quantitative", "axis": {"orient": "top", "values": [-3.9, -3.8, -3.7, -3.6, -3.4, -3.3, -3.2, -3.1, -2.9, -2.8, -2.7, -2.6, -2.4, -2.3, -2.2, -2.1, -1.9, -1.8, -1.7, -1.6, -1.4, -1.3, -1.2, -1.1, -0.9, -0.8, -0.7], "tickSize": -3, "domain": false, "labels": false, "title": null}},
           "y": {"field": "n", "type": "quantitative", "axis": {"orient": "right", "values": [1, 3, 5, 7, 9, 11], "tickSize": -3, "domain": false, "labels": false, "title": null}}
         }}
      ]
    },
    {
      "width": 193, "height": 224, "title": {"text": "UMa I", "dx": -13},
      "resolve": {"axis": {"x": "independent", "y": "independent"}},
      "layer": [
        {"data": {"name": "bars"}, "transform": [{"filter": "datum.g == 'UMa I' && datum.s == 'b'"}],
         "mark": {"type": "bar", "fill": "#0000ff", "fillOpacity": 0.5, "stroke": "#000", "strokeOpacity": 0.5, "strokeWidth": 1.3, "clip": true},
         "encoding": {
           "x": {"field": "lo", "type": "quantitative", "scale": {"domain": [-3.99, -0.67], "nice": false, "zero": false}, "axis": {"orient": "bottom", "values": [-3.5, -3, -2.5, -2, -1.5, -1], "format": ".1f", "tickSize": -6, "labelPadding": 10, "titlePadding": 6, "title": "[Fe/H]"}},
           "x2": {"field": "hi"},
           "y": {"field": "n", "type": "quantitative", "scale": {"domain": [0, 13], "nice": false}, "axis": {"orient": "left", "values": [0, 2, 4, 6, 8, 10, 12], "tickSize": -6, "labels": false, "title": null}},
           "y2": {"datum": 0}
         }},
        {"data": {"name": "bars"}, "transform": [{"filter": "datum.g == 'UMa I' && datum.s == 'g'"}],
         "mark": {"type": "bar", "fill": "#008000", "fillOpacity": 0.5, "stroke": "#000", "strokeOpacity": 0.5, "strokeWidth": 1.3, "clip": true},
         "encoding": {
           "x": {"field": "lo", "type": "quantitative", "axis": {"orient": "top", "values": [-3.5, -3, -2.5, -2, -1.5, -1], "tickSize": -6, "labels": false, "title": null}},
           "x2": {"field": "hi"},
           "y": {"field": "n", "type": "quantitative", "axis": {"orient": "right", "values": [0, 2, 4, 6, 8, 10, 12], "tickSize": -6, "labels": false, "title": null}},
           "y2": {"datum": 0}
         }},
        {"data": {"name": "lines"}, "transform": [{"filter": "datum.g == 'UMa I' && datum.m == 'r'"}],
         "mark": {"type": "line", "interpolate": "step-after", "stroke": "#ff0000", "strokeWidth": 1.5, "strokeDash": [1.5, 2.5], "clip": true},
         "encoding": {
           "x": {"field": "x", "type": "quantitative", "axis": {"orient": "bottom", "values": [-3.9, -3.8, -3.7, -3.6, -3.4, -3.3, -3.2, -3.1, -2.9, -2.8, -2.7, -2.6, -2.4, -2.3, -2.2, -2.1, -1.9, -1.8, -1.7, -1.6, -1.4, -1.3, -1.2, -1.1, -0.9, -0.8, -0.7], "tickSize": -3, "domain": false, "labels": false, "title": null}},
           "y": {"field": "n", "type": "quantitative", "axis": {"orient": "left", "values": [1, 3, 5, 7, 9, 11], "tickSize": -3, "domain": false, "labels": false, "title": null}}
         }},
        {"data": {"name": "lines"}, "transform": [{"filter": "datum.g == 'UMa I' && datum.m == 'c'"}],
         "mark": {"type": "line", "interpolate": "step-after", "stroke": "#00bfbf", "strokeWidth": 1.5, "strokeDash": [1.5, 2.5], "clip": true},
         "encoding": {
           "x": {"field": "x", "type": "quantitative", "axis": {"orient": "top", "values": [-3.9, -3.8, -3.7, -3.6, -3.4, -3.3, -3.2, -3.1, -2.9, -2.8, -2.7, -2.6, -2.4, -2.3, -2.2, -2.1, -1.9, -1.8, -1.7, -1.6, -1.4, -1.3, -1.2, -1.1, -0.9, -0.8, -0.7], "tickSize": -3, "domain": false, "labels": false, "title": null}},
           "y": {"field": "n", "type": "quantitative", "axis": {"orient": "right", "values": [1, 3, 5, 7, 9, 11], "tickSize": -3, "domain": false, "labels": false, "title": null}}
         }}
      ]
    }
  ]
}
